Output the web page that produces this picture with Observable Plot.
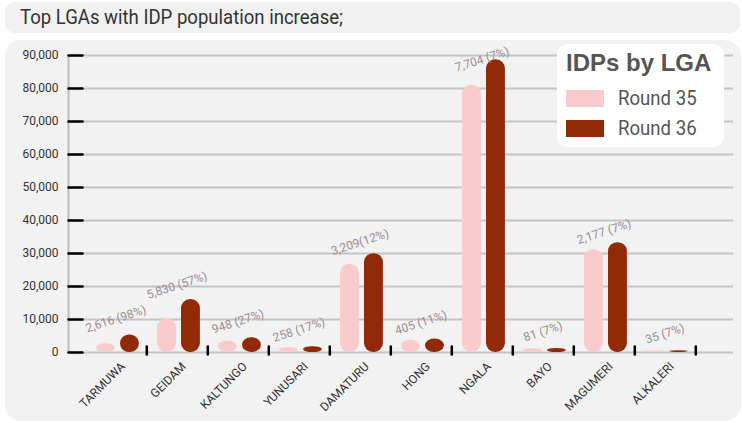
<!DOCTYPE html>
<html><head><meta charset="utf-8">
<script src="https://cdn.jsdelivr.net/npm/d3@7"></script>
<script src="https://cdn.jsdelivr.net/npm/@observablehq/plot@0.6"></script>
<style>
body{margin:0;background:#fff;font-family:"Roboto",sans-serif;}
#wrap{position:relative;width:742px;height:423px;overflow:hidden;}
#titlebox{position:absolute;left:5px;top:2px;width:735px;height:31px;background:#f1f1f1;border-radius:10px;}
#title{position:absolute;left:20px;top:4px;font-size:20px;color:#333;line-height:26px;white-space:nowrap;transform-origin:0 0;}
#panel{position:absolute;left:5px;top:40px;width:736px;height:381px;background:#f2f2f2;border-radius:16px;}
#chart{position:absolute;left:0;top:40px;}
#legend{position:absolute;left:557px;top:44px;width:167px;height:103px;background:#fff;border-radius:10px;color:#555;}
#legend .lt{position:absolute;left:9px;top:5px;font-family:"Liberation Sans",Arial,sans-serif;font-weight:bold;font-size:24px;white-space:nowrap;}
#legend .sw{position:absolute;left:9px;width:38px;height:17px;}
#legend .lb{position:absolute;left:61px;font-size:20px;line-height:20px;white-space:nowrap;transform-origin:0 50%;transform:scaleX(0.93);}
</style></head>
<body>
<div id="wrap">
  <div id="titlebox"></div>
  <div id="title"></div>
  <div id="panel"></div>
  <div id="chart"></div>
  <div id="legend"></div>
</div>
<script>
const titleText = "Top LGAs with IDP population increase;";
const legendTitle = "IDPs by LGA";
const lgas = ["TARMUWA","GEIDAM","KALTUNGO","YUNUSARI","DAMATURU","HONG","NGALA","BAYO","MAGUMERI","ALKALERI"];
const round35 = [2669, 10228, 3511, 1518, 26742, 3682, 81000, 1157, 31100, 500];
const round36 = [5285, 16058, 4459, 1776, 29951, 4087, 88704, 1238, 33277, 535];
const increaseLabels = ["2,616 (98%)","5,830 (57%)","948 (27%)","258 (17%)","3,209(12%)","405 (11%)","7,704 (7%)","81 (7%)","2,177 (7%)","35 (7%)"];
const yTicks = [0,10000,20000,30000,40000,50000,60000,70000,80000,90000];
const seriesNames = ["Round 35","Round 36"];
const seriesColors = ["#f9cbcc","#922a07"];

const titleEl = document.getElementById("title");
titleEl.textContent = titleText;
const tw = titleEl.getBoundingClientRect().width;
titleEl.style.transform = `scaleX(${323 / tw})`;

const data = lgas.map((lga, i) => ({lga, r35: round35[i], r36: round36[i], label: increaseLabels[i]}));

const W = 742, H = 383;
const xRange = [82, 698];
const band = (xRange[1] - xRange[0]) / lgas.length;
const yMax = 90000;
const pxPerUnit = (H - 15 - 71) / yMax;
const labelY = v => v + (17 * (1 - v / yMax)) / pxPerUnit;
const lineShape = {draw(context, l) { context.moveTo(0, 0); context.lineTo(0, -l); }};

const chart = Plot.plot({
  width: W, height: H,
  marginTop: 15, marginBottom: 71, marginLeft: 68, marginRight: 9,
  style: {background: "transparent", fontFamily: "Roboto, sans-serif", overflow: "visible"},
  x: {type: "band", domain: lgas, range: xRange, padding: 0, axis: null},
  y: {domain: [0, yMax], axis: null},
  marks: [
    Plot.ruleY(yTicks, {stroke: "#c4c4c4", strokeWidth: 2}),
    Plot.frame({anchor: "left", stroke: "#bdbdbd", strokeWidth: 2}),
    Plot.vector(yTicks, {y: d => d, frameAnchor: "left", rotate: 90, anchor: "start", length: 14, shape: lineShape, stroke: "#000", strokeWidth: 2.5}),
    Plot.axisY({ticks: yTicks, tickSize: 0, tickPadding: 10, tickFormat: d3.format(","), label: null, fontSize: 12, fill: "#333"}),
    Plot.barY(data, {x: "lga", y: "r35", fill: seriesColors[0], insetLeft: 11, insetRight: band - 30.5, rx: 9}),
    Plot.barY(data, {x: "lga", y: "r36", fill: seriesColors[1], insetLeft: 35, insetRight: band - 54.5, rx: 9}),
    Plot.vector(data, {x: "lga", y: () => 0, length: 8, anchor: "middle", shape: lineShape, dx: band / 2, dy: -2, stroke: "#000", strokeWidth: 2.5}),
    Plot.text(data, {x: "lga", y: d => labelY(d.r36), text: "label", rotate: -18, fill: "#9c8c90", fontSize: 12}),
    Plot.text(lgas, {x: d => d, y: () => 0, text: d => d, rotate: -45, textAnchor: "end", dx: 7, dy: 12, fontSize: 12, fill: "#333"})
  ]
});
document.getElementById("chart").appendChild(chart);

const leg = document.getElementById("legend");
const lt = document.createElement("div"); lt.className = "lt"; lt.textContent = legendTitle; leg.appendChild(lt);
seriesNames.forEach((name, i) => {
  const sw = document.createElement("div"); sw.className = "sw";
  sw.style.top = (46 + i * 30) + "px"; sw.style.background = seriesColors[i]; leg.appendChild(sw);
  const lb = document.createElement("div"); lb.className = "lb";
  lb.style.top = (44 + i * 30) + "px"; lb.textContent = name; leg.appendChild(lb);
});
</script>
</body></html>
